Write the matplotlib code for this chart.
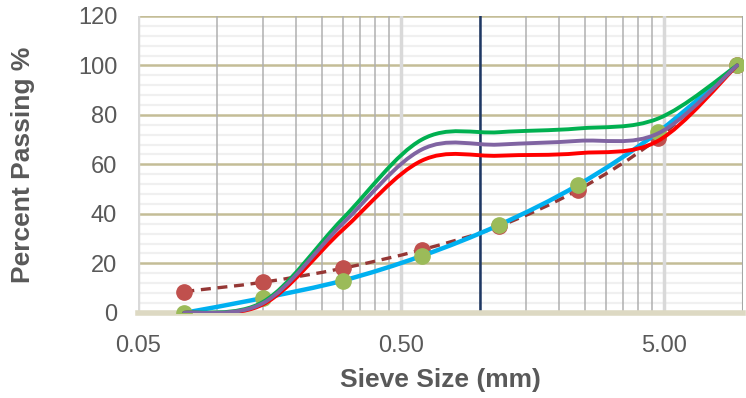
import numpy as np
import matplotlib
matplotlib.use("Agg")
import matplotlib.pyplot as plt
from matplotlib.path import Path
from matplotlib.patches import PathPatch
from matplotlib.ticker import FixedLocator, NullFormatter

plt.rcParams["font.family"] = ["Liberation Sans", "DejaVu Sans"]

# ── Data ─────────────────────────────────────────────────────────────────────
sieve_mm = [0.075, 0.15, 0.3, 0.6, 1.18, 2.36, 4.75, 9.5]

upper_green = [0, 4.5, 38, 70, 73, 74.5, 78.5, 100]
mid_purple = [0, 4, 36, 66, 68, 69.5, 72.5, 100]
lower_red = [0, 3.5, 33.5, 61.5, 63.5, 64.5, 69.5, 100]
dashed_sample = [8.6, 12.4, 18, 25.5, 35, 49.7, 70.6, 100]
blue_sample = [0, 6, 13, 23, 35.5, 51.7, 73, 100]

x_ticks = [0.05, 0.5, 5.0]
x_tick_labels = ["0.05", "0.50", "5.00"]
y_ticks = [0, 20, 40, 60, 80, 100, 120]
ref_line_x = 1.0


def smooth_path(x, y):
    """Excel-like smoothed line: Catmull-Rom Bezier in (log x, y) space."""
    lx = np.log10(np.asarray(x, float))
    y = np.asarray(y, float)
    pts = np.column_stack([lx, y])
    n = len(pts)
    verts = [pts[0]]
    codes = [Path.MOVETO]
    for i in range(n - 1):
        p0 = pts[max(i - 1, 0)]
        p1 = pts[i]
        p2 = pts[i + 1]
        p3 = pts[min(i + 2, n - 1)]
        c1 = p1 + (p2 - p0) / 6.0
        c2 = p2 - (p3 - p1) / 6.0
        verts += [c1, c2, p2]
        codes += [Path.CURVE4] * 3
    verts = np.array(verts)
    verts[:, 0] = 10 ** verts[:, 0]
    return Path(verts, codes)


fig = plt.figure(figsize=(7.46, 3.98), dpi=100)
ax = fig.add_axes([0.185, 0.214, 0.811, 0.746])

ax.set_xscale("log")
ax.set_xlim(0.05, 10)
ax.set_ylim(0, 120)

# ── Grid ─────────────────────────────────────────────────────────────────────
for yv in np.arange(4, 120, 4):
    if yv % 20:
        ax.axhline(yv, color="#F0F0F0", lw=1.6, zorder=0)
for yv in y_ticks[1:]:
    ax.axhline(yv, color="#C4BD97", lw=1.8, zorder=1)
for k in range(2, 10):
    for base in (0.05, 0.5):
        ax.axvline(base * k, color="#B0B0B0", lw=1.1, zorder=1)
ax.axvline(10, color="#A6A6A6", lw=1.5, zorder=1)
ax.axvline(0.5, color="#D9D9D9", lw=2.5, zorder=1)
ax.axvline(5.0, color="#D9D9D9", lw=2.5, zorder=1)
ax.axvline(0.05, color="#D9D9D9", lw=2.5, zorder=1)

ax.axvline(ref_line_x, color="#1F3864", lw=1.8, zorder=2)

# ── Series ───────────────────────────────────────────────────────────────────
ax.add_patch(PathPatch(smooth_path(sieve_mm, dashed_sample), fill=False,
                       edgecolor="#953735", lw=2.4, ls=(0, (3, 2)), zorder=3))
ax.plot(sieve_mm, dashed_sample, ls="none", marker="o", ms=11,
        color="#C0504D", zorder=4)
ax.add_patch(PathPatch(smooth_path(sieve_mm, blue_sample), fill=False,
                       edgecolor="#00B0F0", lw=3.2, capstyle="round", zorder=5))
ax.plot(sieve_mm, blue_sample, ls="none", marker="o", ms=11,
        color="#9BBB59", zorder=6)

for vals, col in [(lower_red, "#FF0000"), (upper_green, "#00B050"),
                  (mid_purple, "#8064A2")]:
    ax.add_patch(PathPatch(smooth_path(sieve_mm, vals), fill=False,
                           edgecolor=col, lw=2.8, capstyle="round", zorder=7))

# ── Axes styling ─────────────────────────────────────────────────────────────
for side in ("top", "right", "left"):
    ax.spines[side].set_visible(False)
ax.spines["bottom"].set_color("#DDD9C3")
ax.spines["bottom"].set_linewidth(4)

ax.xaxis.set_major_locator(FixedLocator(x_ticks))
ax.xaxis.set_minor_locator(FixedLocator([]))
ax.xaxis.set_minor_formatter(NullFormatter())
ax.set_xticklabels(x_tick_labels)
ax.set_yticks(y_ticks)
ax.tick_params(length=0, labelsize=17, colors="#595959")
ax.tick_params(axis="x", pad=16)
ax.tick_params(axis="y", pad=15)

ax.set_xlabel("Sieve Size (mm)", fontsize=19, fontweight="bold",
              color="#595959")
ax.set_ylabel("Percent Passing %", fontsize=19, fontweight="bold",
              color="#595959")
ax.xaxis.label.set_va("center")
ax.yaxis.label.set_va("center")
ax.xaxis.set_label_coords(0.5, -0.2256)
ax.yaxis.set_label_coords(-0.19, 0.5)

fig.savefig("out.png", dpi=100)
